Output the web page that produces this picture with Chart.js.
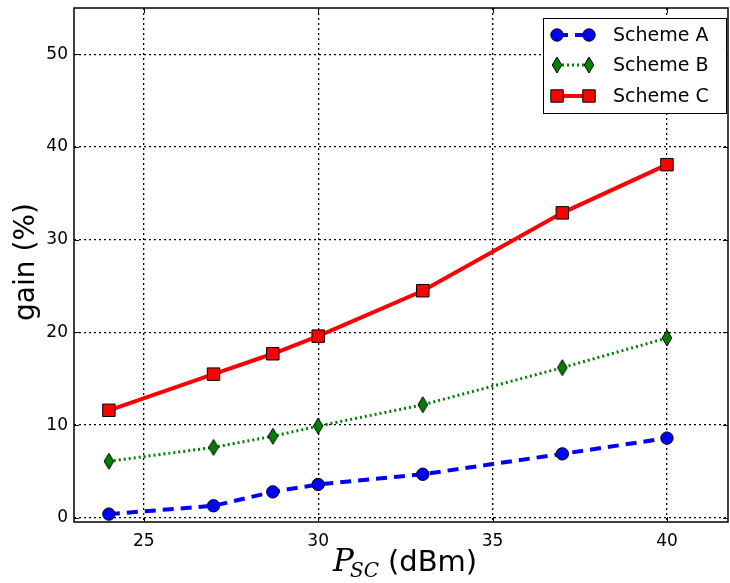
<!DOCTYPE html>
<html>
<head>
<meta charset="utf-8">
<script src="https://cdn.jsdelivr.net/npm/chart.js@4/dist/chart.umd.min.js"></script>
<style>
  html, body { margin: 0; padding: 0; background: #fff; }
  #wrap { width: 730px; height: 583px; }
</style>
</head>
<body>
<div id="wrap"><canvas id="chart" width="730" height="583"></canvas></div>
<script>
// data
const powerValues = [24, 27, 28.7, 30, 33, 37, 40];
const schemeA = [0.4, 1.3, 2.8, 3.6, 4.7, 6.9, 8.6];
const schemeB = [6.1, 7.6, 8.8, 9.9, 12.2, 16.2, 19.4];
const schemeC = [11.6, 15.5, 17.7, 19.6, 24.5, 32.9, 38.1];
const seriesNames = ["Scheme A", "Scheme B", "Scheme C"];
const xTicks = [25, 30, 35, 40];
const yTicks = [0, 10, 20, 30, 40, 50];

const FONT = "'DejaVu Sans', sans-serif";

// thin diamond marker like matplotlib 'd'
function thinDiamond() {
  const c = document.createElement("canvas");
  c.width = 12; c.height = 18;
  const g = c.getContext("2d");
  g.beginPath();
  g.moveTo(6, 1); g.lineTo(10.8, 9); g.lineTo(6, 17); g.lineTo(1.2, 9);
  g.closePath();
  g.fillStyle = "#007f00";
  g.fill();
  g.lineWidth = 1;
  g.strokeStyle = "#000";
  g.stroke();
  return c;
}
const diamondImg = thinDiamond();

function points(ys) {
  return powerValues.map((x, i) => ({ x: x, y: ys[i] }));
}

const datasets = [
  {
    label: seriesNames[0], data: points(schemeA),
    borderColor: "#0000ff", borderWidth: 4, borderDash: [11, 7],
    pointStyle: "circle", pointRadius: 6.2, pointBackgroundColor: "#0000ff",
    pointBorderColor: "#000", pointBorderWidth: 1
  },
  {
    label: seriesNames[1], data: points(schemeB),
    borderColor: "#007f00", borderWidth: 3, borderDash: [2, 3],
    pointStyle: diamondImg, pointRadius: 8,
    pointBackgroundColor: "#007f00", pointBorderColor: "#000"
  },
  {
    label: seriesNames[2], data: points(schemeC),
    borderColor: "#ff0000", borderWidth: 4,
    pointStyle: "rect", pointRadius: 8.8, pointBackgroundColor: "#ff0000",
    pointBorderColor: "#000", pointBorderWidth: 1
  }
];

// frame, inward ticks, legend and axis titles
const decorations = {
  id: "decorations",
  afterDatasetsDraw(chart) {
    const ctx = chart.ctx;
    const a = chart.chartArea;
    const xs = chart.scales.x, ys = chart.scales.y;
    ctx.save();
    ctx.strokeStyle = "#000";
    ctx.lineWidth = 1;
    ctx.beginPath();
    xTicks.forEach(t => {
      const px = Math.round(xs.getPixelForValue(t)) + 0.5;
      ctx.moveTo(px, a.bottom); ctx.lineTo(px, a.bottom - 5);
      ctx.moveTo(px, a.top); ctx.lineTo(px, a.top + 5);
    });
    yTicks.forEach(t => {
      const py = Math.round(ys.getPixelForValue(t)) + 0.5;
      ctx.moveTo(a.left, py); ctx.lineTo(a.left + 5, py);
      ctx.moveTo(a.right, py); ctx.lineTo(a.right - 5, py);
    });
    ctx.stroke();
    ctx.lineWidth = 1.5;
    ctx.strokeRect(a.left, a.top, a.right - a.left, a.bottom - a.top);

    // legend
    const lx = 543.5, ly = 18.5, lw = 183, lh = 95;
    ctx.fillStyle = "#fff";
    ctx.fillRect(lx, ly, lw, lh);
    ctx.lineWidth = 1;
    ctx.strokeStyle = "#000";
    ctx.strokeRect(lx, ly, lw, lh);
    const rows = [35, 65, 96];
    chart.data.datasets.forEach((ds, i) => {
      const y = rows[i];
      ctx.save();
      ctx.strokeStyle = ds.borderColor;
      ctx.lineWidth = ds.borderWidth;
      ctx.setLineDash(ds.borderDash || []);
      ctx.beginPath();
      ctx.moveTo(557, y); ctx.lineTo(589, y);
      ctx.stroke();
      ctx.restore();
      [557, 589].forEach(mx => {
        if (i === 1) {
          ctx.drawImage(diamondImg, mx - 6, y - 9);
        } else {
          ctx.fillStyle = ds.pointBackgroundColor;
          ctx.beginPath();
          if (i === 0) ctx.arc(mx, y, 6.2, 0, Math.PI * 2);
          else ctx.rect(mx - 6.2, y - 6.2, 12.4, 12.4);
          ctx.fill();
          ctx.lineWidth = 1;
          ctx.strokeStyle = "#000";
          ctx.stroke();
        }
      });
      ctx.fillStyle = "#000";
      ctx.font = "19px " + FONT;
      ctx.textBaseline = "middle";
      ctx.textAlign = "left";
      ctx.fillText(ds.label, 613, y + 1);
    });

    // y axis title
    ctx.save();
    ctx.translate(27, 262);
    ctx.rotate(-Math.PI / 2);
    ctx.font = "28px " + FONT;
    ctx.textAlign = "center";
    ctx.textBaseline = "middle";
    ctx.fillStyle = "#000";
    ctx.fillText("gain (%)", 0, 0);
    ctx.restore();

    // x axis title with subscript
    ctx.fillStyle = "#000";
    ctx.textBaseline = "alphabetic";
    ctx.textAlign = "left";
    const base = 571;
    ctx.font = "italic 31px 'DejaVu Serif', 'Liberation Serif', serif";
    ctx.fillText("P", 333, base);
    ctx.font = "italic 20px 'DejaVu Serif', 'Liberation Serif', serif";
    ctx.fillText("SC", 350, base + 6);
    ctx.font = "29px " + FONT;
    ctx.fillText("(dBm)", 388, base);
    ctx.restore();
  }
};

new Chart(document.getElementById("chart"), {
  type: "line",
  data: { datasets: datasets },
  plugins: [decorations],
  options: {
    responsive: false,
    animation: false,
    layout: { autoPadding: false, padding: { top: 8, right: 2, left: 0, bottom: 0 } },
    plugins: { legend: { display: false }, tooltip: { enabled: false } },
    elements: { line: { tension: 0 } },
    scales: {
      x: {
        type: "linear", min: 23, max: 41.75,
        afterFit(s) { s.height = 61; s.paddingLeft = 0; s.paddingRight = 0; },
        afterBuildTicks(s) { s.ticks = xTicks.map(v => ({ value: v })); },
        grid: { color: "#000", lineWidth: 1.3, drawTicks: false },
        border: { display: false, dash: [2, 3] },
        ticks: { color: "#000", font: { family: FONT, size: 17 }, padding: 9 }
      },
      y: {
        type: "linear", min: -0.45, max: 55,
        afterFit(s) { s.width = 74; s.paddingTop = 0; s.paddingBottom = 0; },
        afterBuildTicks(s) { s.ticks = yTicks.map(v => ({ value: v })); },
        grid: { color: "#000", lineWidth: 1.3, drawTicks: false },
        border: { display: false, dash: [2, 3] },
        ticks: { color: "#000", font: { family: FONT, size: 17 }, padding: 6 }
      }
    }
  }
});
</script>
</body>
</html>
